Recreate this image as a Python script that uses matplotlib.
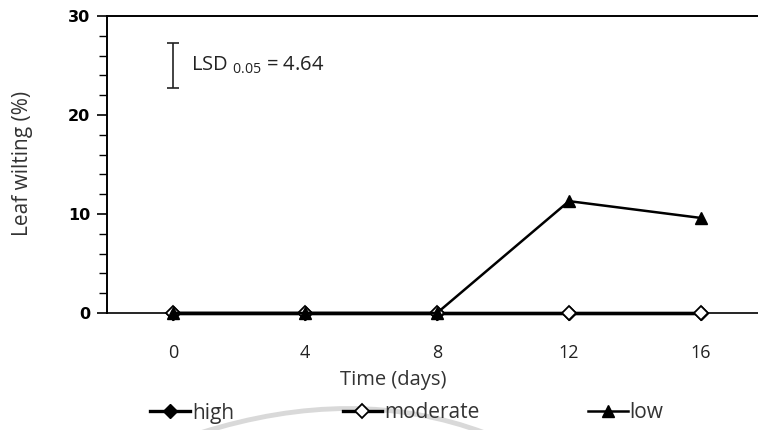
import numpy as np
import matplotlib.pyplot as plt
from matplotlib.path import Path
from matplotlib.patches import PathPatch

# leaf wilting (%) over time for three treatment levels
days = ['0', '4', '8', '12', '16']
high = [0, 0, 0, 0, 0]
moderate = [0, 0, 0, 0, 0]
low = [0, 0, 0, 11.3, 9.6]
lsd = 4.64

label_font = 'Open Sans'
plt.rcParams['mathtext.fontset'] = 'custom'
plt.rcParams['mathtext.rm'] = label_font

W, H = 758, 430
fig = plt.figure(figsize=(W / 100, H / 100), dpi=100)
ax = fig.add_axes([107 / W, 1 - 313 / H, 1 - 107 / W, 297 / H])

x = np.arange(len(days))
ax.plot(x, high, color='black', lw=2.4, marker='D', ms=7,
        mfc='black', mec='black', label='high', clip_on=False, zorder=3)
ax.plot(x, moderate, color='black', lw=2.4, marker='D', ms=7,
        mfc='white', mec='black', mew=1.3, label='moderate', clip_on=False, zorder=4)
ax.plot(x, low, color='black', lw=1.8, marker='^', ms=9,
        mfc='black', mec='black', label='low', clip_on=False, zorder=5)

# LSD bar
ax.errorbar([0], [25], yerr=[lsd / 2], color='#222222', lw=1.2, capsize=4.5, capthick=1.2)
ax.text(0.14, 25, r'LSD $_{\mathregular{0.05}}$ = 4.64', fontsize=14.5,
        family=label_font, color='#222222', va='center', ha='left')

ax.set_xlim(-0.5, (W - 173) / 132)
ax.set_ylim(0, 30)
ax.set_xticks(x)
ax.set_xticklabels(days, family=label_font, fontsize=13, color='#222222')
ax.set_yticks([0, 10, 20, 30])
ax.set_yticks(np.arange(0, 31, 2), minor=True)
ax.tick_params(axis='y', which='major', length=7, width=1.2, labelsize=11.5, pad=5)
ax.tick_params(axis='y', which='minor', length=6, width=1.0)
ax.tick_params(axis='x', length=0, pad=22)
for lbl in ax.get_yticklabels():
    lbl.set_fontweight('semibold')

ax.spines['right'].set_visible(False)
ax.spines['left'].set_linewidth(1.4)
ax.spines['top'].set_linewidth(1.4)
ax.spines['bottom'].set_linewidth(1.2)

fig.text(393 / W, 1 - 380 / H, 'Time (days)', family=label_font, fontsize=14.5,
         color='#333333', ha='center', va='center')
fig.text(23 / W, 1 - 163 / H, 'Leaf wilting (%)', family=label_font, fontsize=15,
         color='#333333', ha='center', va='center', rotation=90)

# faint grey swoosh behind the legend
verts = [(200 / W, 1 - 433 / H), (355 / W, 1 - 384 / H), (485 / W, 1 - 433 / H)]
swoosh = PathPatch(Path(verts, [Path.MOVETO, Path.CURVE3, Path.CURVE3]),
                   transform=fig.transFigure, fill=False, ec='#d9d9d9', lw=3.5, zorder=0)
fig.patches.append(swoosh)

leg = fig.legend(loc='center', bbox_to_anchor=(407 / W, 1 - 413 / H), ncol=3, frameon=False,
                 handlelength=1.9, handletextpad=0.1, columnspacing=5.2,
                 borderpad=0, prop={'family': label_font, 'size': 15})
for t in leg.get_texts():
    t.set_color('#333333')

fig.savefig('out.png', dpi=100)
